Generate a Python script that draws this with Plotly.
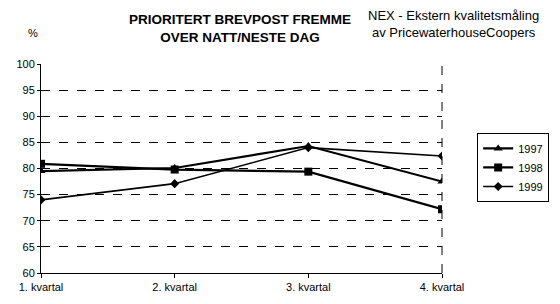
import plotly.graph_objects as go

categories = ["1. kvartal", "2. kvartal", "3. kvartal", "4. kvartal"]
y1997 = [79.5, 80.1, 84.3, 77.5]
y1998 = [80.9, 79.8, 79.4, 72.2]
y1999 = [74.0, 77.1, 84.0, 82.4]
yticks = [60, 65, 70, 75, 80, 85, 90, 95, 100]

FONT = "Liberation Sans, Arial, sans-serif"

fig = go.Figure()
fig.add_trace(go.Scatter(x=categories, y=y1997, name="1997", mode="lines+markers",
                         line=dict(color="black", width=2.2),
                         marker=dict(symbol="triangle-up", size=8, color="black")))
fig.add_trace(go.Scatter(x=categories, y=y1998, name="1998", mode="lines+markers",
                         line=dict(color="black", width=2.2),
                         marker=dict(symbol="square", size=8, color="black")))
fig.add_trace(go.Scatter(x=categories, y=y1999, name="1999", mode="lines+markers",
                         line=dict(color="black", width=1.6),
                         marker=dict(symbol="diamond", size=7, color="black")))

fig.update_layout(
    width=560, height=304,
    margin=dict(l=41, r=117, t=64, b=31),
    paper_bgcolor="white", plot_bgcolor="white",
    font=dict(family=FONT, size=11, color="black"),
    showlegend=True,
    legend=dict(x=1.085, y=0.67, xanchor="left", yanchor="top",
                bordercolor="black", borderwidth=1, bgcolor="white",
                font=dict(size=11), itemwidth=30, tracegroupgap=0),
)
fig.update_xaxes(type="category", range=[0, 3], showgrid=False,
                 showline=True, linecolor="black", linewidth=1,
                 ticks="outside", ticklen=4, tickcolor="black",
                 tickfont=dict(size=11), zeroline=False)
fig.update_yaxes(range=[60, 100], tickvals=yticks, showgrid=True,
                 gridcolor="black", gridwidth=1, griddash="dash",
                 showline=True, linecolor="black", linewidth=1,
                 ticks="outside", ticklen=3, tickcolor="black",
                 tickfont=dict(size=11), zeroline=False)

# dashed right border of plot area
fig.add_shape(type="line", xref="paper", yref="paper", x0=1, x1=1, y0=0, y1=1,
              line=dict(color="black", width=1, dash="dash"))

fig.add_annotation(text="<b>PRIORITERT BREVPOST FREMME</b><br><b>OVER NATT/NESTE DAG</b>",
                   xref="paper", yref="paper", x=(240 - 41) / 402, y=1 + (64 - 28) / 209,
                   xanchor="center", yanchor="middle", showarrow=False,
                   font=dict(size=13.5, family=FONT), align="center")
fig.add_annotation(text="NEX - Ekstern kvalitetsmåling<br>av PricewaterhouseCoopers",
                   xref="paper", yref="paper", x=(455 - 41) / 402, y=1 + (64 - 24) / 209,
                   xanchor="center", yanchor="middle", showarrow=False,
                   font=dict(size=13, family=FONT), align="center")
fig.add_annotation(text="%", xref="paper", yref="paper", x=(33 - 41) / 402,
                   y=1 + (64 - 33) / 209, xanchor="center", yanchor="middle",
                   showarrow=False, font=dict(size=11, family=FONT))

fig.write_html("out.html")
